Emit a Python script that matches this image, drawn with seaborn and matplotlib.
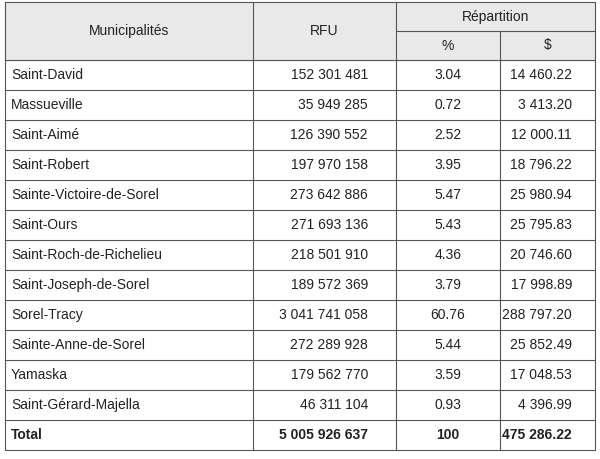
import matplotlib

matplotlib.use("Agg")
import matplotlib.pyplot as plt
import seaborn as sns

municipalites = ["Saint-David", "Massueville", "Saint-Aimé", "Saint-Robert",
                 "Sainte-Victoire-de-Sorel", "Saint-Ours", "Saint-Roch-de-Richelieu",
                 "Saint-Joseph-de-Sorel", "Sorel-Tracy", "Sainte-Anne-de-Sorel",
                 "Yamaska", "Saint-Gérard-Majella"]
rfu = ["152 301 481", "35 949 285", "126 390 552", "197 970 158", "273 642 886",
       "271 693 136", "218 501 910", "189 572 369", "3 041 741 058", "272 289 928",
       "179 562 770", "46 311 104"]
pct = ["3.04", "0.72", "2.52", "3.95", "5.47", "5.43", "4.36", "3.79", "60.76",
       "5.44", "3.59", "0.93"]
dollars = ["14 460.22", "3 413.20", "12 000.11", "18 796.22", "25 980.94", "25 795.83",
           "20 746.60", "17 998.89", "288 797.20", "25 852.49", "17 048.53", "4 396.99"]
total = ["Total", "5 005 926 637", "100", "475 286.22"]

sns.set_theme(style="white")
plt.rcParams["font.family"] = ["Liberation Sans", "DejaVu Sans"]

fig = plt.figure(figsize=(6, 4.59), dpi=100, facecolor="white")
ax = fig.add_axes([0, 0, 1, 1])
ax.set_xlim(0, 600)
ax.set_ylim(459, 0)
ax.axis("off")

x0, x1, x2, x3, x4 = 5, 253, 396, 500, 595
top, mid, head = 2, 31, 60
rh = 30
bottom = head + rh * (len(municipalites) + 1)
fs = 10
col = "#222222"

ax.add_patch(plt.Rectangle((x0, top), x4 - x0, head - top, color="#e9e9e9", zorder=0))

kw = dict(color="#555555", lw=0.8)
for y in [top, head, bottom]:
    ax.plot([x0, x4], [y, y], **kw)
ax.plot([x2, x4], [mid, mid], **kw)
for i in range(1, len(municipalites) + 1):
    ax.plot([x0, x4], [head + i * rh] * 2, **kw)
for x in [x0, x1, x2, x4]:
    ax.plot([x, x], [top, bottom], **kw)
ax.plot([x3, x3], [mid, bottom], **kw)

ax.text((x0 + x1) / 2, (top + head) / 2, "Municipalités", ha="center", va="center", fontsize=fs, color=col)
ax.text((x1 + x2) / 2, (top + head) / 2, "RFU", ha="center", va="center", fontsize=fs, color=col)
ax.text((x2 + x4) / 2, (top + mid) / 2, "Répartition", ha="center", va="center", fontsize=fs, color=col)
ax.text((x2 + x3) / 2, (mid + head) / 2, "%", ha="center", va="center", fontsize=fs, color=col)
ax.text((x3 + x4) / 2, (mid + head) / 2, "$", ha="center", va="center", fontsize=fs, color=col)

rows = list(zip(municipalites, rfu, pct, dollars)) + [tuple(total)]
for i, (m, r, p, d) in enumerate(rows):
    y = head + rh * i + rh / 2
    w = "bold" if i == len(rows) - 1 else "normal"
    ax.text(x0 + 6, y, m, ha="left", va="center", fontsize=fs, color=col, weight=w)
    ax.text(368, y, r, ha="right", va="center", fontsize=fs, color=col, weight=w)
    ax.text((x2 + x3) / 2, y, p, ha="center", va="center", fontsize=fs, color=col, weight=w)
    ax.text(572, y, d, ha="right", va="center", fontsize=fs, color=col, weight=w)

fig.savefig("out.png", dpi=100, facecolor="white")
